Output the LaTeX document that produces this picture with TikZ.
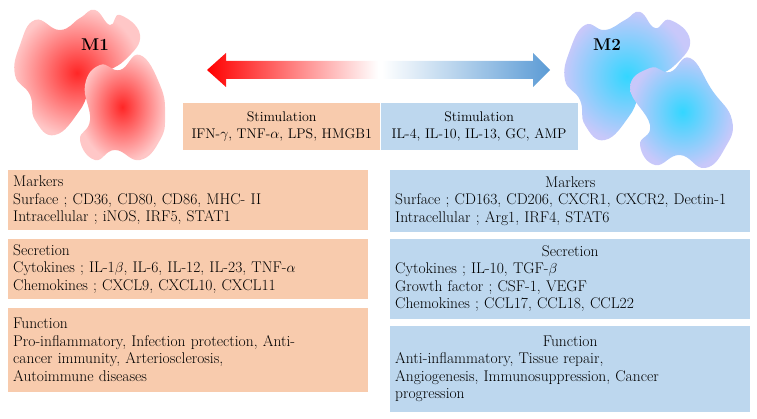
\documentclass[tikz,border=0pt]{standalone}
\usetikzlibrary{positioning}
\definecolor{mone}{RGB}{248,203,173}
\definecolor{mtwo}{RGB}{189,215,238}
\definecolor{arrblue}{RGB}{91,155,213}
\definecolor{lav}{RGB}{200,200,250}
\tikzset{
  lbox/.style={draw=none, fill=mone, anchor=north west, text width=350pt, align=left,
    inner xsep=5pt, inner ysep=2pt, font=\fontsize{15.5}{17.5}\selectfont},
  rbox/.style={lbox, fill=mtwo},
  stim/.style={anchor=north west, minimum width=197pt, minimum height=47pt, inner sep=0pt,
    align=center, font=\fontsize{14}{17}\selectfont},
  cellred/.style={inner color=red!85, outer color=red!22},
  cellblue/.style={inner color=cyan!80!blue!80, outer color=lav},
}
\begin{document}
\begin{tikzpicture}[x=1pt,y=-1pt]
  \useasboundingbox (0,0) rectangle (757,419);
  % M1 cell
  \shade[cellred] plot[smooth cycle, tension=0.8] coordinates {(20,45) (35,20) (60,30) (80,18) (95,10) (110,25) (120,15) (140,35) (125,60) (95,80) (80,110) (55,135) (35,120) (30,95) (15,75)};
  \shade[cellred] plot[smooth cycle, tension=0.8] coordinates {(85,85) (100,65) (120,70) (140,55) (160,85) (165,115) (160,140) (140,160) (115,150) (95,160) (80,140) (90,120)};
  \node[font=\bfseries\fontsize{17}{20}\selectfont] (m1) at (95,45) {M1};
  % M2 cell
  \shade[cellblue] plot[smooth cycle, tension=0.8] coordinates {(570,50) (585,25) (605,30) (625,20) (640,12) (655,28) (670,20) (690,40) (675,65) (645,85) (630,115) (605,140) (585,125) (580,100) (565,80)};
  \shade[cellblue] plot[smooth cycle, tension=0.8] coordinates {(630,88) (650,68) (670,72) (690,58) (712,90) (732,120) (725,148) (705,168) (680,155) (655,165) (640,145) (650,125)};
  \node[font=\bfseries\fontsize{17}{20}\selectfont] (m2) at (607,45) {M2};
  % arrows
  \shade[left color=red, right color=white] (378,61) -- (226,61) -- (226,53) -- (207,70) -- (226,87) -- (226,79) -- (378,79) -- cycle;
  \shade[left color=white, right color=arrblue] (382,61) -- (533,61) -- (533,53) -- (550,70) -- (533,87) -- (533,79) -- (382,79) -- cycle;
  % stimulation
  \node[stim, fill=mone] (s1) at (183,103) {Stimulation\\IFN-$\gamma$, TNF-$\alpha$, LPS, HMGB1};
  \node[stim, fill=mtwo, right=0pt of s1] (s2) {Stimulation\\IL-4, IL-10, IL-13, GC, AMP};
  % M1 boxes
  \node[lbox, minimum height=60pt] (mk1) at (8,170) {Markers\\Surface ; CD36, CD80, CD86, MHC- II\\Intracellular ; iNOS, IRF5, STAT1};
  \node[lbox, minimum height=60pt, below=8pt of mk1.south west, anchor=north west] (sc1) {Secretion\\Cytokines ; IL-1$\beta$, IL-6, IL-12, IL-23, TNF-$\alpha$\\Chemokines ; CXCL9, CXCL10, CXCL11};
  \node[lbox, minimum height=84pt, below=9pt of sc1.south west, anchor=north west] (fn1) {Function\\Pro-inflammatory, Infection protection, Anti-\\cancer immunity, Arteriosclerosis,\\Autoimmune diseases};
  % M2 boxes
  \node[rbox, minimum height=62pt] (mk2) at (390,170) {\centering Markers\par\raggedright Surface ; CD163, CD206, CXCR1, CXCR2, Dectin-1\\Intracellular ; Arg1, IRF4, STAT6};
  \node[rbox, minimum height=80pt, below=6pt of mk2.south west, anchor=north west] (sc2) {\centering Secretion\par\raggedright Cytokines ; IL-10, TGF-$\beta$\\Growth factor ; CSF-1, VEGF\\Chemokines ; CCL17, CCL18, CCL22};
  \node[rbox, minimum height=86pt, below=7pt of sc2.south west, anchor=north west] (fn2) {\centering Function\par\raggedright Anti-inflammatory, Tissue repair,\\Angiogenesis, Immunosuppression, Cancer\\progression};
\end{tikzpicture}
\end{document}
